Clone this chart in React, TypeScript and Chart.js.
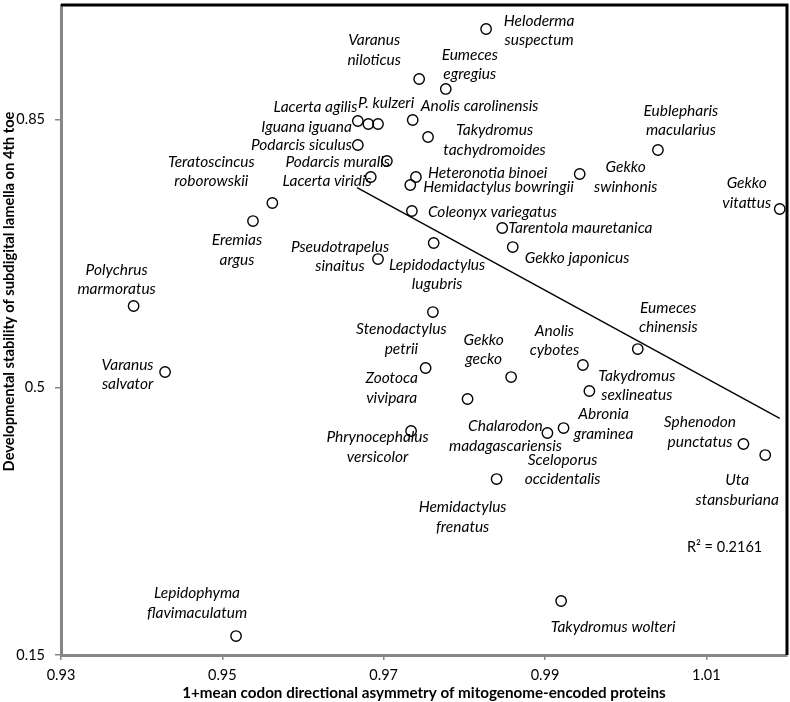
import React, { useEffect, useRef } from "react";
import { Chart, registerables } from "chart.js";

Chart.register(...registerables);

const species: string[] = [
  "Heloderma suspectum", "Varanus niloticus", "Eumeces egregius", "Iguana iguana",
  "Lacerta agilis", "P. kulzeri", "Anolis carolinensis", "Podarcis siculus",
  "Takydromus tachydromoides", "Eublepharis macularius", "Podarcis muralis", "Lacerta viridis",
  "Heteronotia binoei", "Hemidactylus bowringii", "Gekko swinhonis", "Gekko vitattus",
  "Coleonyx variegatus", "Teratoscincus roborowskii", "Eremias argus", "Tarentola mauretanica",
  "Gekko japonicus", "Lepidodactylus lugubris", "Pseudotrapelus sinaitus", "Polychrus marmoratus",
  "Stenodactylus petrii", "Eumeces chinensis", "Anolis cybotes", "Gekko gecko",
  "Varanus salvator", "Zootoca vivipara", "Takydromus sexlineatus", "Sceloporus occidentalis",
  "Chalarodon madagascariensis", "Abronia graminea", "Phrynocephalus versicolor", "Sphenodon punctatus",
  "Uta stansburiana", "Hemidactylus frenatus", "Lepidophyma flavimaculatum", "Takydromus wolteri",
];

const asymmetry: number[] = [
  0.9827, 0.9744, 0.9777, 0.9668,
  0.9681, 0.9693, 0.9736, 0.9668,
  0.9755, 1.004, 0.9704, 0.9684,
  0.974, 0.9733, 0.9943, 1.0191,
  0.9735, 0.9562, 0.9538, 0.9847,
  0.986, 0.9762, 0.9693, 0.939,
  0.9761, 1.0015, 0.9947, 0.9858,
  0.9429, 0.9752, 0.9955, 0.9804,
  0.9903, 0.9923, 0.9734, 1.0146,
  1.0173, 0.984, 0.9517, 0.992,
];

const stability: number[] = [
  0.9686, 0.9032, 0.8902, 0.8483,
  0.8444, 0.8444, 0.8496, 0.8169,
  0.8274, 0.8104, 0.796, 0.7751,
  0.7751, 0.7646, 0.779, 0.7332,
  0.7306, 0.7411, 0.7175, 0.7084,
  0.6835, 0.6888, 0.6678, 0.6064,
  0.5985, 0.5501, 0.5292, 0.5135,
  0.5201, 0.5253, 0.4952, 0.4848,
  0.4403, 0.4468, 0.4429, 0.4259,
  0.4115, 0.3801, 0.1748, 0.2206,
];

const xTicks: number[] = [0.93, 0.95, 0.97, 0.99, 1.01];
const yTicks: number[] = [0.15, 0.5, 0.85];
const trendX: number[] = [0.9667, 1.0191];
const trendY: number[] = [0.7611, 0.4595];
const r2Text = "R\u00B2 = 0.2161";
const xTitle = "1+mean codon directional asymmetry of mitogenome-encoded proteins";
const yTitle = "Developmental stability of subdigital lamella on 4th toe";

// label layout relative to each point: [dx, dy, align, wrapToTwoLines]
const labelLayout: [number, number, string, boolean][] = [
  [53, 1.5, "c", true], [-45, -29, "c", true], [24, -24.5, "c", true], [-6, 6, "r", false],
  [-11, -17, "r", false], [-20, -21, "l", false], [8, -14.3, "l", false], [-6, 0, "r", false],
  [66.5, 3, "c", true], [23, -29.5, "c", true], [3, 1, "r", false], [1, 4, "r", false],
  [12, -4, "l", false], [13, 2, "l", false], [46, 3, "c", true], [-33, -16, "c", true],
  [16, 1, "l", false], [-61, -31.5, "c", true], [-16, 29, "c", true], [6, 0, "l", false],
  [12, 11, "l", false], [3.5, 31.5, "c", true], [-38, -2.5, "c", true], [-17, -26.5, "c", true],
  [-31.5, 27, "c", true], [30.5, -31.5, "c", true], [-28.5, -24.5, "c", true], [-27.5, -27.5, "c", true],
  [-37.5, 2.5, "c", true], [-34, 20, "c", true], [47.5, -5.5, "c", true], [95, 70.5, "c", true],
  [-42, 3, "c", true], [40, -4, "c", true], [-33.5, 16, "c", true], [-43.5, -12, "c", true],
  [-28, 35, "c", true], [-34, 38, "c", true], [-39, -33, "c", true], [52, 26, "c", false],
];
const r2Pos = { x: 1.0076, y: 0.2912 };

const FONT = "Lato, 'Open Sans', sans-serif";

const zeroPad = (s: any) => {
  s.paddingLeft = 0;
  s.paddingRight = 0;
  s.paddingTop = 0;
  s.paddingBottom = 0;
};

const labelsPlugin = {
  id: "speciesLabels",
  afterDatasetsDraw(chart: any) {
    const ctx = chart.ctx;
    const xs = chart.scales.x;
    const ys = chart.scales.y;
    ctx.save();
    ctx.fillStyle = "#000";
    ctx.font = `italic 15.5px ${FONT}`;
    ctx.textBaseline = "middle";
    const lh = 19.5;
    species.forEach((name, i) => {
      const [dx, dy, align, wrap] = labelLayout[i];
      const px = xs.getPixelForValue(asymmetry[i]) + dx;
      const py = ys.getPixelForValue(stability[i]) + dy;
      ctx.textAlign = align === "l" ? "left" : align === "r" ? "right" : "center";
      let lines = [name];
      if (wrap) {
        const k = name.indexOf(" ");
        lines = [name.slice(0, k), name.slice(k + 1)];
      }
      const y0 = py - ((lines.length - 1) * lh) / 2;
      lines.forEach((ln, j) => ctx.fillText(ln, px, y0 + j * lh));
    });
    ctx.font = `14.5px ${FONT}`;
    ctx.textAlign = "left";
    ctx.fillText(r2Text, xs.getPixelForValue(r2Pos.x), ys.getPixelForValue(r2Pos.y));
    ctx.restore();
  },
  afterDraw(chart: any) {
    const ctx = chart.ctx;
    const a = chart.chartArea;
    ctx.save();
    ctx.strokeStyle = "#000";
    ctx.lineWidth = 3;
    ctx.beginPath();
    ctx.moveTo(a.left, a.top);
    ctx.lineTo(a.right, a.top);
    ctx.lineTo(a.right, a.bottom);
    ctx.stroke();
    ctx.fillStyle = "#000";
    ctx.font = `bold 14.7px ${FONT}`;
    ctx.textAlign = "center";
    ctx.textBaseline = "middle";
    ctx.translate(9, 291.5);
    ctx.rotate(-Math.PI / 2);
    ctx.fillText(yTitle, 0, 0);
    ctx.restore();
  },
};

export default function App() {
  const ref = useRef<HTMLCanvasElement | null>(null);
  useEffect(() => {
    document.body.style.margin = "0";
    document.body.style.overflow = "hidden";
    const canvas = ref.current;
    if (!canvas) return;
    const chart = new Chart(canvas, {
      type: "scatter",
      data: {
        datasets: [
          {
            label: "species",
            data: asymmetry.map((x, i) => ({ x, y: stability[i] })),
            pointStyle: "circle",
            pointRadius: 5.2,
            pointBorderWidth: 1.4,
            pointBorderColor: "#000",
            pointBackgroundColor: "rgba(0,0,0,0)",
            showLine: false,
            clip: false as any,
          },
          {
            label: "trend",
            data: trendX.map((x, i) => ({ x, y: trendY[i] })),
            showLine: true,
            borderColor: "#000",
            borderWidth: 1.4,
            pointRadius: 0,
            fill: false,
          },
        ],
      },
      options: {
        animation: false,
        responsive: false,
        maintainAspectRatio: false,
        devicePixelRatio: 1,
        layout: { autoPadding: false, padding: { top: 5, right: 3, left: 0, bottom: 0 } },
        plugins: { legend: { display: false }, tooltip: { enabled: false } },
        scales: {
          x: {
            type: "linear",
            min: 0.93,
            max: 1.02,
            afterBuildTicks: (s: any) => {
              s.ticks = xTicks.map((v) => ({ value: v }));
            },
            afterFit: (s: any) => {
              s.height = 47;
              zeroPad(s);
            },
            grid: { display: true, drawOnChartArea: false, drawTicks: true, tickLength: 5, color: "#868686", lineWidth: 1.5 },
            border: { display: true, color: "#868686", width: 3 },
            ticks: {
              color: "#000",
              font: { family: FONT, size: 14.5 },
              padding: 7,
              maxRotation: 0,
              autoSkip: false,
              callback: (v: any) => String(v),
            },
            title: {
              display: true,
              text: xTitle,
              color: "#000",
              font: { family: FONT, size: 15.2, weight: "bold" },
              padding: { top: 0, bottom: 0 },
            },
          },
          y: {
            type: "linear",
            min: 0.15,
            max: 1.0,
            afterBuildTicks: (s: any) => {
              s.ticks = yTicks.map((v) => ({ value: v }));
            },
            afterFit: (s: any) => {
              s.width = 61;
              zeroPad(s);
            },
            grid: { display: true, drawOnChartArea: false, drawTicks: true, tickLength: 6, color: "#868686", lineWidth: 1.5 },
            border: { display: true, color: "#868686", width: 3 },
            ticks: {
              color: "#000",
              font: { family: FONT, size: 14.5 },
              padding: 10,
              autoSkip: false,
              callback: (v: any) => String(v),
            },
            title: { display: false },
          },
        },
      },
      plugins: [labelsPlugin],
    });
    return () => chart.destroy();
  }, []);
  return <canvas ref={ref} width={790} height={702} style={{ display: "block", width: 790, height: 702 }} />;
}
